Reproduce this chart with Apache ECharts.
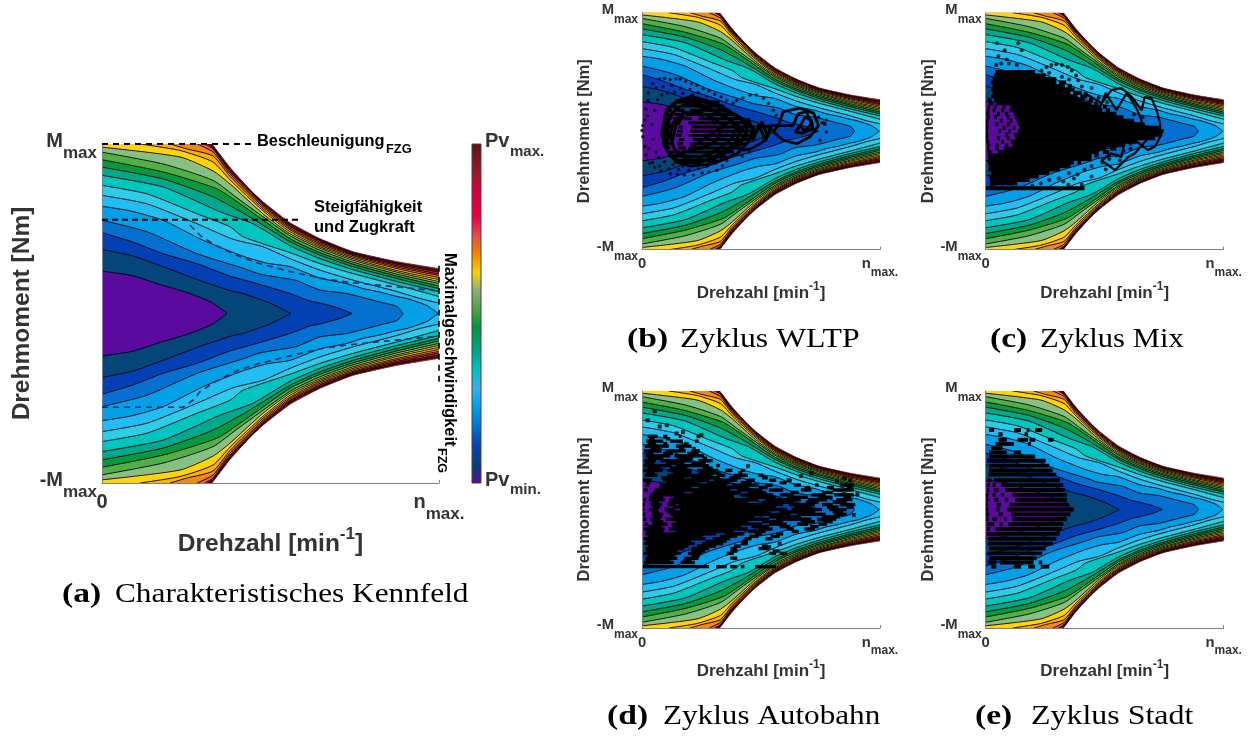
<!DOCTYPE html>
<html><head><meta charset="utf-8">
<script src="https://cdn.jsdelivr.net/npm/echarts@6/dist/echarts.min.js"></script>
<style>html,body{margin:0;padding:0;background:#fff}#c{width:1249px;height:737px}</style>
</head><body><div id="c"></div>
<script>
// Contours of the loss map: pairs of speed, half-width of torque (symmetric), outermost first.
const envelope=[0,170,110,170,128,146.5,148,124,161,112,188,91,218,75,251,62,295,52,337,45];
const level18=[0,170,108,170,111,167.5,128,145,161,111,188,89.5,218,74,251,61,295,50.7,337,43];
const level17=[0,170,106,170,111,166.5,128,143.5,161,110,188,88,218,73,251,60,295,49.5,337,41.5];
const level16=[0,170,103,170,111,165,128,142,161,108.5,188,87,218,71.5,251,59,295,48,337,39.5];
const level15=[0,170,95,170,111,162,128,140,161,107,188,85.5,218,70,251,58,295,46.5,337,38];
const level14=[0,170,68,170,85,165,111,158,128,137.5,161,105,188,84,218,68.5,251,56.5,295,45,337,36];
const level13=[0,170,38,170,78,163.5,111,152,128,134,161,103,188,82,218,67,251,55,295,43,337,34];
const level12=[0,166.8,78,157,111,143,128,130,161,100,188,80,218,65.5,251,53.5,295,41.5,337,32];
const level11=[0,161.8,61,150,111,133.5,135,116,188,78,218,63.5,251,51.5,295,39.5,337,30];
const level10=[0,154.2,61,142,115,125,141,108,188,75,218,61,251,49.5,295,37.5,337,27.5];
const level09=[0,146.8,61,135,111,117,145,98.5,188,72,218,58.5,251,47,295,35,337,25];
const level08=[0,138.5,61,127,118,102,151,90,188,68,218,55,251,44,295,32,337,22];
const level07=[0,128.5,45,120,95,100,128,87,141,77,188,61,218,50,251,40,295,28.5,337,17];
const level06=[0,118.5,45,110,95,90,131,74.5,161,67,188,55,218,43.5,251,33.5,295,22,318,15,337,10.5];
const level05=[0,107.5,28,103,61,93.5,101,73.5,141,57.5,165,50.5,188,47,218,35.5,245,30,261,25,278,21.5,295,17,305,15,325,8,336,0];
const level04=[0,93.5,45,82,95,60,141,45.5,158,39.5,188,34.5,195,33,218,23.5,245,20,278,11.5,295,7,301,0];
const level03=[0,81,30,72,61,60,95,50,128,37.5,155,30,188,20,208,12.5,218,10.5,238,5,250,0];
const level02=[0,64.2,30,58,61,47,98,33,128,23,141,20,168,10.5,189,0];
const level01=[0,42.5,30,38,58,29,85,21,110,11,125,0];
const levels=[envelope,level18,level17,level16,level15,level14,level13,level12,level11,level10,level09,level08,level07,level06,level05,level04,level03,level02,level01];
const levelColors=['#5a1512','#a81c22','#e2103c','#e8603c','#f08a14','#ffb000','#ffd40e','#86c184','#4fb045','#059a40','#00a98e','#00c6bf','#2dcdea','#22bdf3','#03a0e8','#0570d0','#0340b4','#04457a','#5a0a9e'];
// Colour bar
const barStops=[0,.05,.108,.167,.226,.28,.334,.40,.46,.51,.57,.62,.68,.727,.786,.865,.91,1];
const barColors=['#5a0a9e','#0a3f70','#0a40b0','#0070d0','#00a0e8','#3ab0e8','#00c0c0','#00a080','#00953a','#50a040','#88b078','#ffd000','#f08000','#e05050','#e80040','#d00040','#a01828','#5a1510'];
// Load-limit dashed lines on the main map
const limitAccel=[[0,170],[150,170]];
const limitClimb=[[0,94],[198,94]];
const limitSpeed=[[337,48],[337,-70]];
const vmaxUpper=[[88,88.5],[98,78.5],[113,68.5],[138,57],[158,50],[188,42],[223,34.5],[255,30.5],[281,28],[311,25],[328,23.5],[337,22.5]];
const vmaxLower=[[0,-94],[81,-94],[91,-87],[98,-78.5],[113,-68.5],[138,-56],[158,-50],[188,-42.5],[223,-34.5],[255,-30.5],[281,-28],[311,-25],[328,-23.5],[337,-22.5]];
// Operating points, WLTP
const wltpTrace=[[36,-30],[28,-5],[34,30],[50,44],[70,50],[92,44],[112,36],[132,24],[148,14],[158,2],[150,-16],[135,-32],[112,-42],[90,-48],[68,-50],[48,-44],[35,-28],[38,15],[48,32],[68,42],[90,36],[108,27],[125,17],[140,4],[132,-18],[112,-32],[92,-41],[70,-41],[52,-35],[42,-18],[48,8],[60,22],[30,0],[32,22],[42,38],[58,46],[78,45],[100,38],[122,28],[140,18],[150,8],[145,-8],[128,-25],[105,-38],[80,-45],[58,-45],[40,-36],[30,-18],[33,5],[40,24],[55,36],[75,37],[98,30],[118,20],[135,10],[128,-10],[108,-26],[85,-36],[62,-36],[46,-26],[40,-8],[44,12],[58,26],[78,28],[100,20],[115,8],[105,-14],[85,-25],[66,-26],[125,14],[140,-2],[150,18],[160,-5],[170,14],[178,-8],[185,10],[172,-15],[155,-25],[143,-27],[125,-18],[135,-20],[150,-5],[158,-12],[165,10],[175,-14],[182,6],[168,6],[185,8],[193,8],[200,28],[224,33],[243,26],[250,8],[238,-8],[219,-18],[200,-13],[186,-1],[193,8],[214,8],[221,25],[233,28],[240,11],[228,-3],[217,-1],[224,8],[231,20],[240,16],[242,4],[231,-1],[224,8]];
const wltpDots=[[25,75],[32,76],[40,74],[48,75],[54,75],[62,72],[70,68],[78,66],[87,61],[95,58],[103,53],[112,49],[120,44],[15,68],[9,55],[9,44],[6,32],[4,16],[1,8],[0,1],[1,-8],[4,-22],[6,-34],[11,-46],[18,-52],[27,-57],[40,-61],[50,-62],[60,-63],[73,-63],[85,-60],[95,-58],[106,-56],[114,-50],[120,-42],[20,62],[30,64],[42,66],[55,62],[68,60],[80,55],[92,50],[105,42],[115,35],[15,-45],[25,-50],[38,-54],[52,-55],[66,-56],[80,-54],[92,-50],[104,-46],[112,-38],[129,40],[134,44],[143,48],[153,52],[162,52],[172,47],[179,40],[186,30],[190,23],[250,20],[261,16],[261,-1],[252,-13],[257,12],[255,12],[259,10],[120,-30],[130,-34],[142,-36],[152,-30],[18,30],[14,10],[16,-12],[20,-30],[22,45],[10,-25],[8,22],[28,52],[36,55],[46,56],[58,54],[72,52],[24,-38],[32,-44],[44,-48],[58,-50]];
const wltpRuns=[[42,50,110],[36,40,50,58,115],[30,34,42,50,60,68,125],[24,32,38,46,54,62,135],[18,30,36,44,52,60,70,80,142],[12,30,38,48,54,66,150],[6,32,40,52,58,70,160],[0,30,36,50,58,68,165],[-6,32,38,48,56,66,160],[-12,30,38,52,60,72,155],[-18,34,42,50,58,68,150],[-24,32,40,52,62,70,140],[-30,36,46,56,130],[-36,42,52,60,120],[-42,50,105]];
// Operating points, Mix: rows of torque with runs of speed
const mixDots=[[16,126],[27,116],[46,126],[51,116],[18,108],[30,103],[15,95],[22,97],[33,97],[44,95],[79,87],[86,92],[93,95],[100,96],[108,95],[116,92],[122,87],[128,80],[131,73],[136,64],[141,54],[150,-65],[136,-77],[117,-77],[110,-72],[125,-68],[140,-55],[150,-50],[165,-45],[175,-40],[185,-35],[195,-28],[130,-62],[118,-60],[104,-68],[90,-70],[78,-75],[66,-78],[150,62],[160,48],[172,42],[108,78],[118,74],[90,84],[210,24],[222,20],[205,-25],[190,-42],[170,-55],[205,-18]];
const mixTrace=[[141,54],[164,40],[178,59],[192,62],[207,49],[221,30],[225,49],[235,47],[242,30],[247,11],[247,-8],[240,-22],[230,-27],[211,-13],[202,6],[192,-37],[178,-32],[164,-42],[183,-56],[202,-37],[211,-32],[230,-10],[215,30],[200,55],[185,30],[170,55],[160,30]];
const mixRuns=[[85,14,70],[80,12,85],[75,10,100],[70,8,100,104,114],[65,10,112,116,122],[60,8,126],[55,10,120,124,136],[50,8,130,134,144],[45,3,8,12,140,146,152],[40,5,10,16,150,154,158],[35,3,6,12,16,24,28,36,160,166,172],[30,2,5,10,14,22,26,34,165,170,176],[25,1,5,16,20,28,32,40,185],[20,2,6,12,16,30,34,42,195],[15,0,4,20,24,34,38,44,210],[10,0,3,14,18,30,34,46,225],[5,0,4,24,28,38,42,48,245],[0,0,3,18,22,32,36,46,252],[-5,0,4,28,32,40,250],[-10,0,3,16,20,30,34,42,240],[-15,1,5,22,26,36,215],[-20,2,6,14,18,28,32,38,195],[-25,2,5,14,18,26,170,176,185],[-30,3,8,18,160,166,175],[-35,3,150,154,160],[-40,4,150],[-45,3,125,130,135],[-50,5,120],[-55,4,105],[-60,8,90],[-65,5,75],[-70,6,62],[-75,6,45],[-82,0,140]];
// Operating points, Autobahn
const autoDots=[[18,141],[8,128],[25,119],[35,121],[49,109],[58,111],[80,105],[84,107],[180,-54],[195,-49],[287,45],[295,42],[276,40],[305,22],[300,-8],[240,52],[225,48],[150,62]];
const autoRuns=[[105,8,22,30,36,52,56],[98,6,30,40,58,75,80],[91,4,38,48,70],[84,3,28,34,62,70,82],[77,5,40,46,88],[70,3,20,26,70,80,100],[63,3,42,48,95,105,110],[56,2,30,36,70,78,108,118,128,140,146],[49,4,22,36,100,106,118,130,150,165,172],[42,2,14,30,95,102,135,148,160,180,190,205,212],[35,5,10,25,120,128,165,175,185,215,225,245,250,280,300],[28,3,8,18,125,135,170,180,200,225,240,270,300],[21,12,130,140,185,195,215,240,260,272,300],[14,2,6,10,32,40,165,175,225,235,262,275,298],[7,0,4,12,28,36,48,52,200,208,245,255,270,280,302],[0,0,3,10,22,32,46,54,205,212,255,265,290],[-7,0,5,14,30,40,210,220,260,272,290],[-14,2,6,12,26,34,180,190,240,248,275],[-21,4,8,15,36,42,170,180,205,220,235,250,262],[-28,3,32,38,150,165,185,205,215,230,245],[-35,5,105,118,145,160,170,190,200],[-42,3,90,100,125,145,155,175,185],[-49,3,75,85,115,140,150],[-56,5,60,70,95,125,135,165,180],[-63,3,55,65,85,120,130,180,190,195,205],[-70,5,50,60,80,125,135],[-76,3,45,55,75],[-82,0,95,105,120,125,135,140,145,160,190],
[101.5,10,18,34,40],[94.5,8,20,30,36,60,66],[87.5,12,26,52,60,72,76],[80.5,6,16,30,44,64,80],[73.5,8,30,50,72,86,92],[66.5,4,18,34,60,70,90],[59.5,8,26,40,64,86,100],[52.5,6,18,44,70,80,112,136,142],[45.5,28,60,70,110,124,140,170,178],[38.5,6,12,34,80,92,125,140,155,195,205],[31.5,24,70,80,150,165,178,230,238,262,272,290,298],[24.5,16,60,72,140,150,175,210,222,255,270],[17.5,10,30,45,130,150,190,205,235,250,270,285,296],[10.5,14,24,38,150,170,215,232,250,270,290],[3.5,16,26,44,190,215,240,262,278,290,300],[-3.5,14,24,36,180,195,245,270,285],[-10.5,16,28,44,160,180,225,255,280],[-17.5,14,30,48,150,170,200,225,245,258,270],[-24.5,8,28,44,140,155,180,195,210,238,250],[-31.5,6,30,50,130,150,175,212,222],[-38.5,8,85,110,135,152,165,182,195],[-45.5,6,70,90,120,142,150],[-52.5,8,66,78,105,130,140,170,178],[-59.5,6,50,70,90,125,135,185,195],[-66.5,8,45,70,82],[-73,6,40,58,70]];
// Operating points, Stadt
const stadtRuns=[[114,5,12,40,50,58,62,70,80],[108,18,24,55,60],[100,18,30,45,60,62,70,88,96],[94,14,40,60,64],[88,8,24],[82,5,30,40,50],[76,5,70],[70,2,85],[63,5,90],[56,5,95],[50,4,100],[42,3,8,12,105],[35,2,6,10,14,22,110],[28,2,5,12,18,28,112],[21,0,4,10,14,22,26,38,115],[14,0,4,12,18,28,32,42,115],[7,0,3,16,22,34,118],[0,0,4,15,20,30,125],[-7,0,5,18,24,36,120],[-14,1,4,10,16,26,30,38,115],[-21,2,12,20,24,32,110],[-28,2,6,14,108],[-35,2,105],[-42,4,100],[-49,3,95],[-56,5,85],[-63,3,80],[-70,5,72],[-76,3,15,20,68,75,80],[-82,8,15,40,50,60,70,78,90]];
// Tick labels and axis titles
const speedTicks=['{m|0}','{m|n}{s|max.}'];
const torqueTicks=['{m|-M}{s|max}','','{m|M}{s|max}'];

const chart=echarts.init(document.getElementById('c'));
const big={fm:20,fs:17,name:24.5,nameY:24.5,sup:17,nameGapY:67,nameGapX:43,lmY:5,lmX:9.5,Ly:30.75,padY:5,Lx:30};
const small={fm:14.8,fs:12,name:17,nameY:16.5,sup:12,nameGapY:44,nameGapX:31,lmY:4,lmX:7,Ly:22.7,padY:2.5,Lx:22};
const panels=[
 Object.assign({left:102,top:144,w:337,h:339},big),
 Object.assign({left:642,top:12.7,w:238,h:237,trace:wltpTrace,dots:wltpDots,runs:wltpRuns,tw:2.8,ds:3.4,rw:3},small),
 Object.assign({left:985.7,top:12.7,w:238,h:237,trace:mixTrace,dots:mixDots,runs:mixRuns,tw:2.2,ds:4,rw:4},small),
 Object.assign({left:642,top:391,w:238,h:237,dots:autoDots,runs:autoRuns,ds:4,rw:3.4,sq:1},small),
 Object.assign({left:985.7,top:391,w:238,h:237,runs:stadtRuns,ds:4,rw:3.9},small)
];
function contourItem(params,api){
  const li=api.value(0),a=levels[li],up=[],lo=[];
  for(let i=0;i<a.length;i+=2){up.push([a[i],a[i+1]]);lo.push([a[i],-a[i+1]]);}
  let s=0;up.forEach((p,i)=>{if(p[1]>=170)s=i;});
  const poly=up.concat(lo.slice().reverse()).map(p=>api.coord(p));
  const edge=li===0?'#8a1c2c':'#000';
  return {type:'group',children:[
    {type:'polygon',shape:{points:poly},style:{fill:levelColors[li]}},
    {type:'polyline',shape:{points:up.slice(s).map(p=>api.coord(p)),smooth:0.2},style:{fill:'none',stroke:edge,lineWidth:0.9}},
    {type:'polyline',shape:{points:lo.slice(s).map(p=>api.coord(p)),smooth:0.2},style:{fill:'none',stroke:edge,lineWidth:0.9}}
  ]};
}
function flattenRuns(rows){
  const out=[];
  rows.forEach(r=>{for(let i=1;i<r.length;i+=2)out.push([r[0],r[i],r[i+1]]);});
  return out;
}
const grid=[],xAxis=[],yAxis=[],series=[];
panels.forEach((p,i)=>{
  grid.push({left:p.left,top:p.top,width:p.w,height:p.h,containLabel:false});
  const mkRich=L=>({m:{fontFamily:'Liberation Sans',fontWeight:'bold',fontSize:p.fm,color:'#333',lineHeight:L,verticalAlign:'top'},
              s:{fontFamily:'Liberation Sans',fontWeight:'bold',fontSize:p.fs,color:'#333',lineHeight:L,verticalAlign:'bottom'}});
  xAxis.push({gridIndex:i,type:'value',min:0,max:337,interval:337,z:5,
    splitLine:{show:false},axisLine:{onZero:false,lineStyle:{color:'#808080',width:1}},axisTick:{inside:true,length:3,lineStyle:{color:'#808080'}},
    axisLabel:{margin:p.lmX,rich:mkRich(p.Lx),showMinLabel:true,showMaxLabel:true,hideOverlap:false,
      formatter:v=>v===0?speedTicks[0]:speedTicks[1]},
    name:'{t|Drehzahl [min}{u|-1}{t|]}',nameLocation:'middle',nameGap:p.nameGapX,
    nameTextStyle:{rich:{t:{fontFamily:'Liberation Sans',fontWeight:'bold',fontSize:p.name,color:'#333',lineHeight:p.name*1.25,verticalAlign:'bottom'},
                         u:{fontFamily:'Liberation Sans',fontWeight:'bold',fontSize:p.sup,color:'#333',lineHeight:p.name*1.25,verticalAlign:'top'}}}});
  yAxis.push({gridIndex:i,type:'value',min:-170,max:170,interval:170,z:5,
    splitLine:{show:false},axisLine:{onZero:false,lineStyle:{color:'#808080',width:1}},axisTick:{show:false},
    axisLabel:{margin:p.lmY,rich:mkRich(p.Ly),padding:[p.padY,0,0,0],showMinLabel:true,showMaxLabel:true,hideOverlap:false,
      formatter:v=>v<0?torqueTicks[0]:(v>0?torqueTicks[2]:torqueTicks[1])},
    name:'Drehmoment [Nm]',nameLocation:'middle',nameGap:p.nameGapY,nameRotate:90,
    nameTextStyle:{fontFamily:'Liberation Sans',fontWeight:'bold',fontSize:p.nameY,color:'#333'}});
  series.push({type:'custom',xAxisIndex:i,yAxisIndex:i,silent:true,animation:false,clip:true,z:2,
    data:levels.map((_,k)=>[k]),renderItem:contourItem,encode:{x:[],y:[]}});
  if(p.trace)series.push({type:'line',xAxisIndex:i,yAxisIndex:i,data:p.trace,showSymbol:false,silent:true,animation:false,z:4,
    lineStyle:{color:'#000',width:p.tw}});
  if(p.runs&&p.runs.length)series.push({type:'custom',xAxisIndex:i,yAxisIndex:i,silent:true,animation:false,z:4,
    data:flattenRuns(p.runs),encode:{x:[1,2],y:0},
    renderItem:(params,api)=>{const a=api.coord([api.value(1),api.value(0)]),b=api.coord([api.value(2),api.value(0)]);
      return {type:'line',shape:{x1:a[0],y1:a[1],x2:b[0],y2:b[1]},style:{stroke:'#000',lineWidth:p.rw,lineCap:'butt'}};}});
  if(p.dots)series.push({type:'scatter',xAxisIndex:i,yAxisIndex:i,data:p.dots,symbol:p.sq?'rect':'circle',symbolSize:p.ds,silent:true,animation:false,z:5,
    itemStyle:{color:'#000'}});
});
// Limit lines on the main map
[[limitAccel,'#000',[6,5],1.9],[limitClimb,'#000',[6,4],1.9],[limitSpeed,'#000',[6,5],1.6],[vmaxUpper,'#0b2a6a',[6,5],1.6],[vmaxLower,'#0b2a6a',[6,5],1.6]].forEach(l=>{
  series.push({type:'line',xAxisIndex:0,yAxisIndex:0,data:l[0],showSymbol:false,silent:true,animation:false,z:6,clip:false,
    lineStyle:{color:l[1],width:l[3],type:l[2]}});
});
const t=(text,x,y,size,extra)=>({type:'text',x,y,silent:true,z:20,style:Object.assign({text,font:'bold '+size+'px "Liberation Sans"',fill:'#000',verticalAlign:'middle'},extra||{})});
const cap=(text,x,y,bold,sx)=>({type:'text',x,y,scaleX:sx,silent:true,z:20,style:{text,font:(bold?'bold ':'')+'28px "Liberation Serif"',fill:'#000',verticalAlign:'middle'}});
const graphic=[
  t('Beschleunigung',257,141,16.4),t('FZG',386,149,12.8),
  t('Steigfähigkeit',314,207,16.5),t('und Zugkraft',314,227,16.5),
  {type:'text',x:450,y:253,rotation:-Math.PI/2,silent:true,z:20,style:{text:'Maximalgeschwindigkeit',font:'bold 16.5px "Liberation Sans"',fill:'#000',verticalAlign:'middle'}},
  {type:'text',x:441,y:448,rotation:-Math.PI/2,silent:true,z:20,style:{text:'FZG',font:'bold 12.5px "Liberation Sans"',fill:'#000',verticalAlign:'middle'}},
  t('Pv',485,141,20,{fill:'#333'}),t('max.',510,152,15,{fill:'#333'}),
  t('Pv',485,480,20,{fill:'#333'}),t('min.',510,490,15,{fill:'#333'}),
  {type:'rect',silent:true,z:20,shape:{x:472,y:144,width:9,height:339},style:{stroke:'#444',lineWidth:1,
    fill:new echarts.graphic.LinearGradient(0,1,0,0,barStops.map((o,i)=>({offset:o,color:barColors[i]})))}},
  cap('(a)',62,595,true,1.2),cap('Charakteristisches Kennfeld',115,595,false,1.117),
  cap('(b)',627,340,true,1.2),cap('Zyklus WLTP',680,340,false,1.134),
  cap('(c)',990,340,true,1.2),cap('Zyklus Mix',1040,340,false,1.093),
  cap('(d)',607,717,true,1.2),cap('Zyklus Autobahn',663,717,false,1.113),
  cap('(e)',975,717,true,1.2),cap('Zyklus Stadt',1031,717,false,1.14)
];
chart.setOption({animation:false,backgroundColor:'#fff',grid,xAxis,yAxis,series,graphic});
</script></body></html>
